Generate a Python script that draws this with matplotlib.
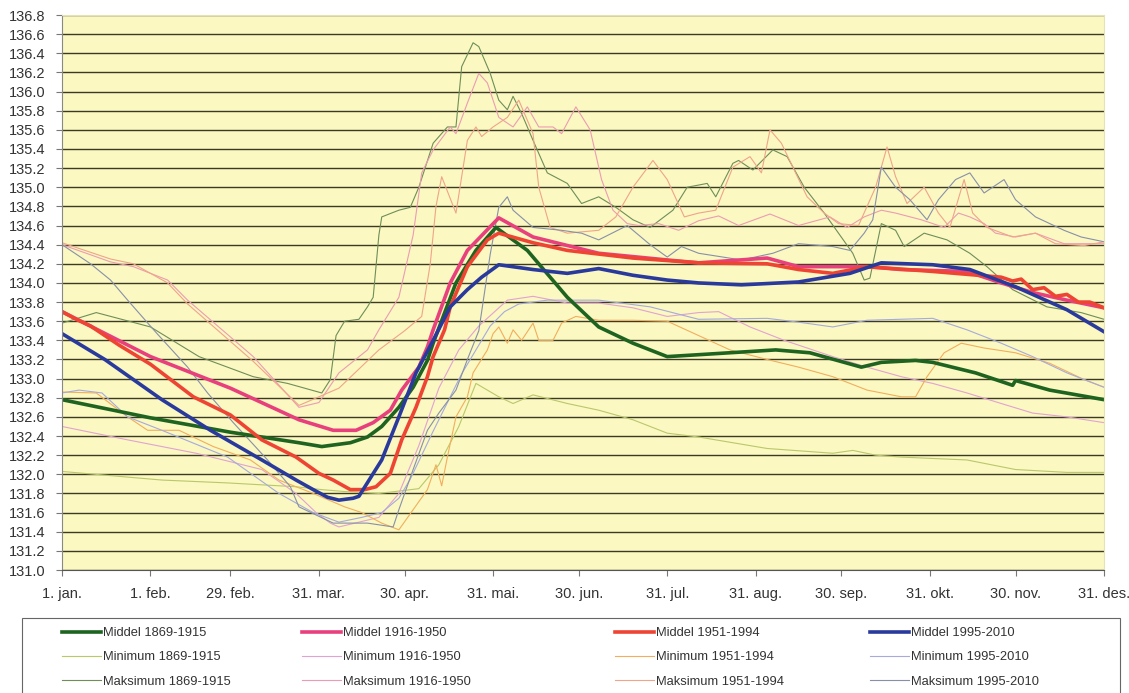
import matplotlib
matplotlib.use("Agg")
import matplotlib.pyplot as plt
from matplotlib.patches import Rectangle
from matplotlib.ticker import FormatStrFormatter, MultipleLocator

plt.rcParams['font.family'] = ['Liberation Sans', 'DejaVu Sans']

# x-akse: dag i året (skuddår), etiketter
tick_dager = [0, 31, 59, 90, 120, 151, 181, 212, 243, 273, 304, 334, 365]
tick_tekst = ['1. jan.', '1. feb.', '29. feb.', '31. mar.', '30. apr.', '31. mai.', '30. jun.',
              '31. jul.', '31. aug.', '30. sep.', '31. okt.', '30. nov.', '31. des.']

# ---- Middel ----
dag_mid_1869 = [0, 31, 59, 83, 91, 101, 107, 112, 118, 123, 128, 130, 138, 145, 152, 163, 177, 188,
                200, 212, 223, 250, 262, 280, 287, 299, 305, 320, 333, 334, 346, 365]
mid_1869 = [132.78, 132.59, 132.44, 132.33, 132.29, 132.33, 132.39, 132.50, 132.70, 132.91, 133.19,
            133.37, 134.00, 134.34, 134.58, 134.34, 133.85, 133.54, 133.37, 133.23, 133.25, 133.30,
            133.27, 133.12, 133.17, 133.19, 133.17, 133.06, 132.93, 132.98, 132.88, 132.78]

dag_mid_1916 = [0, 31, 59, 83, 95, 103, 109, 115, 119, 125, 128, 130, 136, 142, 153, 165, 188, 212,
                223, 247, 258, 282, 294, 317, 329, 340, 352, 365]
mid_1916 = [133.70, 133.23, 132.90, 132.57, 132.46, 132.46, 132.54, 132.67, 132.88, 133.12, 133.33,
            133.51, 134.00, 134.34, 134.68, 134.48, 134.31, 134.24, 134.21, 134.26, 134.17, 134.17,
            134.14, 134.12, 134.00, 133.90, 133.82, 133.74]

dag_mid_1951 = [0, 5, 10, 20, 31, 46, 59, 70, 82, 90, 95, 101, 106, 110, 115, 119, 124, 128, 130,
                134, 136, 142, 149, 153, 165, 177, 200, 223, 247, 258, 270, 282, 305, 329, 333,
                336, 340, 344, 348, 352, 356, 360, 365]
mid_1951 = [133.70, 133.62, 133.55, 133.35, 133.15, 132.81, 132.62, 132.36, 132.18, 132.01, 131.94,
            131.84, 131.84, 131.87, 132.01, 132.36, 132.70, 133.02, 133.23, 133.51, 133.75, 134.17,
            134.45, 134.52, 134.42, 134.34, 134.26, 134.21, 134.20, 134.14, 134.10, 134.17, 134.12,
            134.06, 134.02, 134.04, 133.93, 133.95, 133.86, 133.88, 133.80, 133.80, 133.74]

dag_mid_1995 = [0, 15, 35, 52, 70, 82, 88, 93, 97, 102, 104, 112, 118, 124, 130, 136, 142, 147, 153,
                165, 177, 188, 200, 212, 223, 238, 258, 276, 287, 305, 318, 334, 352, 365]
mid_1995 = [133.47, 133.20, 132.78, 132.46, 132.15, 131.94, 131.84, 131.76, 131.73, 131.75, 131.77,
            132.15, 132.60, 133.06, 133.40, 133.75, 133.93, 134.06, 134.19, 134.14, 134.10, 134.15,
            134.08, 134.03, 134.00, 133.98, 134.01, 134.10, 134.21, 134.19, 134.14, 133.96, 133.72,
            133.49]

# ---- Minimum / Maksimum ----
dag_min_1869 = [0, 35, 58, 82, 91, 99, 111, 125, 132, 139, 145, 153, 158, 165, 177, 188, 200, 212,
                223, 247, 270, 277, 285, 294, 317, 334, 352, 365]
min_1869 = [132.03, 131.94, 131.91, 131.87, 131.84, 131.82, 131.80, 131.85, 132.10, 132.50, 132.95,
            132.81, 132.74, 132.83, 132.74, 132.67, 132.57, 132.43, 132.39, 132.27, 132.22, 132.25,
            132.20, 132.18, 132.15, 132.05, 132.02, 132.02]

dag_maks_1869 = [0, 12, 31, 48, 67, 79, 91, 94, 96, 99, 104, 107, 109, 111, 112, 118, 122, 125, 130,
                 135, 138, 140, 144, 146, 150, 153, 156, 158, 161, 165, 170, 177, 182, 188, 194, 200,
                 206, 214, 219, 226, 229, 235, 237, 242, 249, 254, 260, 267, 272, 277, 281, 283, 287,
                 292, 295, 302, 310, 318, 324, 333, 345, 357, 365]
maks_1869 = [133.58, 133.69, 133.54, 133.23, 133.02, 132.95, 132.85, 132.99, 133.45, 133.60, 133.62,
             133.75, 133.85, 134.50, 134.69, 134.76, 134.79, 135.00, 135.46, 135.63, 135.63, 136.26,
             136.51, 136.47, 136.19, 135.91, 135.81, 135.95, 135.77, 135.49, 135.15, 135.04, 134.83,
             134.90, 134.79, 134.66, 134.58, 134.76, 135.00, 135.04, 134.90, 135.25, 135.28, 135.18,
             135.39, 135.32, 135.00, 134.73, 134.52, 134.31, 134.03, 134.05, 134.62, 134.55, 134.38,
             134.52, 134.45, 134.31, 134.17, 133.93, 133.75, 133.69, 133.62]

dag_min_1916 = [0, 23, 47, 70, 82, 89, 94, 97, 104, 111, 118, 125, 132, 139, 146, 156, 165, 177, 188,
                200, 212, 223, 230, 241, 253, 270, 282, 294, 305, 317, 329, 340, 352, 365]
min_1916 = [132.50, 132.36, 132.22, 132.05, 131.80, 131.60, 131.49, 131.45, 131.50, 131.55, 131.80,
            132.30, 132.90, 133.30, 133.55, 133.82, 133.86, 133.79, 133.79, 133.74, 133.65, 133.69,
            133.70, 133.54, 133.40, 133.23, 133.12, 133.02, 132.95, 132.85, 132.74, 132.64, 132.60,
            132.54]

dag_maks_1916 = [0, 17, 25, 37, 44, 67, 83, 90, 97, 107, 111, 118, 123, 126, 130, 136, 138, 142, 146,
                 149, 151, 153, 158, 163, 167, 172, 175, 180, 185, 189, 193, 198, 202, 209, 216, 223,
                 230, 237, 248, 258, 269, 275, 281, 287, 292, 301, 309, 314, 318, 323, 327, 334, 341,
                 351, 365]
maks_1916 = [134.40, 134.22, 134.17, 134.03, 133.82, 133.23, 132.70, 132.75, 133.06, 133.30, 133.51,
             133.85, 134.50, 135.15, 135.39, 135.63, 135.56, 135.88, 136.19, 136.09, 135.91, 135.73,
             135.63, 135.84, 135.63, 135.63, 135.56, 135.84, 135.60, 135.08, 134.76, 134.62, 134.60,
             134.62, 134.55, 134.65, 134.70, 134.60, 134.72, 134.60, 134.69, 134.58, 134.69, 134.76,
             134.73, 134.66, 134.58, 134.73, 134.69, 134.62, 134.52, 134.48, 134.52, 134.41, 134.41]

dag_min_1951 = [0, 12, 23, 30, 41, 53, 66, 76, 88, 99, 105, 112, 118, 123, 128, 131, 133, 135, 138,
                142, 144, 149, 151, 153, 156, 158, 161, 165, 167, 172, 175, 180, 188, 200, 212, 223,
                234, 247, 258, 270, 282, 294, 299, 303, 309, 315, 323, 334, 346, 358, 365]
min_1951 = [132.86, 132.85, 132.60, 132.46, 132.46, 132.29, 132.15, 131.94, 131.80, 131.66, 131.60,
            131.49, 131.42, 131.63, 131.84, 132.10, 131.88, 132.18, 132.60, 132.81, 133.06, 133.30,
            133.47, 133.54, 133.37, 133.51, 133.40, 133.58, 133.40, 133.40, 133.58, 133.65, 133.61,
            133.61, 133.60, 133.45, 133.30, 133.20, 133.12, 133.02, 132.88, 132.81, 132.81, 133.02,
            133.27, 133.37, 133.32, 133.27, 133.16, 132.99, 132.91]

dag_maks_1951 = [0, 17, 25, 37, 44, 67, 83, 97, 111, 120, 126, 129, 131, 133, 138, 142, 145, 147, 151,
                 156, 160, 165, 167, 171, 177, 188, 194, 200, 202, 207, 212, 218, 223, 229, 235, 241,
                 245, 248, 252, 256, 261, 267, 272, 279, 285, 289, 292, 296, 302, 307, 311, 316, 319,
                 324, 333, 341, 348, 358, 365]
maks_1951 = [134.42, 134.25, 134.20, 134.00, 133.78, 133.18, 132.72, 132.90, 133.30, 133.50, 133.65,
             134.20, 134.80, 135.11, 134.73, 135.49, 135.63, 135.53, 135.63, 135.73, 135.91, 135.56,
             135.00, 134.58, 134.52, 134.55, 134.69, 135.00, 135.08, 135.28, 135.08, 134.69, 134.73,
             134.76, 135.21, 135.32, 135.15, 135.60, 135.46, 135.21, 134.90, 134.73, 134.62, 134.60,
             135.00, 135.42, 135.11, 134.83, 135.00, 134.73, 134.58, 135.08, 134.73, 134.58, 134.48,
             134.52, 134.41, 134.39, 134.43]

dag_min_1995 = [0, 6, 14, 23, 35, 58, 76, 88, 97, 105, 112, 118, 122, 126, 130, 135, 140, 146, 150,
                155, 160, 170, 188, 206, 223, 247, 258, 270, 282, 305, 317, 329, 340, 352, 365]
min_1995 = [132.85, 132.88, 132.85, 132.60, 132.46, 132.18, 131.80, 131.60, 131.50, 131.55, 131.60,
            131.75, 131.95, 132.20, 132.45, 132.75, 133.05, 133.35, 133.55, 133.70, 133.78, 133.82,
            133.82, 133.75, 133.62, 133.63, 133.59, 133.54, 133.61, 133.63, 133.51, 133.37, 133.23,
            133.06, 132.91]

dag_maks_1995 = [0, 10, 17, 23, 33, 44, 51, 60, 72, 80, 83, 95, 107, 116, 118, 123, 128, 132, 138,
                 142, 146, 150, 153, 156, 158, 165, 175, 182, 188, 198, 206, 212, 217, 223, 238, 249,
                 258, 270, 276, 281, 284, 287, 292, 297, 303, 307, 313, 318, 323, 330, 334, 341, 351,
                 357, 365]
maks_1995 = [134.40, 134.20, 134.03, 133.82, 133.48, 133.12, 132.85, 132.54, 132.15, 131.87, 131.66,
             131.49, 131.49, 131.45, 131.63, 132.05, 132.46, 132.64, 132.88, 133.20, 133.50, 134.30,
             134.79, 134.90, 134.76, 134.58, 134.55, 134.52, 134.45, 134.60, 134.40, 134.27, 134.38,
             134.31, 134.24, 134.31, 134.41, 134.38, 134.34, 134.52, 134.66, 135.21, 135.00, 134.87,
             134.66, 134.87, 135.08, 135.15, 134.94, 135.08, 134.87, 134.69, 134.55, 134.48, 134.43]


def tegn():
    fig = plt.figure(figsize=(11.29, 6.93), dpi=100)
    ax = fig.add_axes([62 / 1129, 1 - 570 / 693, (1104 - 62) / 1129, (570 - 15) / 693])
    ax.set_facecolor('#FBF8C2')

    tynn = 0.8
    tykk = 2.6
    h_min_1869, = ax.plot(dag_min_1869, min_1869, color='#B9C86A', lw=tynn, label='Minimum 1869-1915')
    h_maks_1869, = ax.plot(dag_maks_1869, maks_1869, color='#6F8E58', lw=tynn, label='Maksimum 1869-1915')
    h_min_1916, = ax.plot(dag_min_1916, min_1916, color='#E2A2D2', lw=tynn, label='Minimum 1916-1950')
    h_maks_1916, = ax.plot(dag_maks_1916, maks_1916, color='#EC9CB2', lw=tynn, label='Maksimum 1916-1950')
    h_min_1951, = ax.plot(dag_min_1951, min_1951, color='#F2AE5C', lw=tynn, label='Minimum 1951-1994')
    h_maks_1951, = ax.plot(dag_maks_1951, maks_1951, color='#F0A48A', lw=tynn, label='Maksimum 1951-1994')
    h_min_1995, = ax.plot(dag_min_1995, min_1995, color='#A6AADC', lw=tynn, label='Minimum 1995-2010')
    h_maks_1995, = ax.plot(dag_maks_1995, maks_1995, color='#8890A8', lw=tynn, label='Maksimum 1995-2010')

    h_mid_1869, = ax.plot(dag_mid_1869, mid_1869, color='#1E6420', lw=tykk, label='Middel 1869-1915')
    h_mid_1916, = ax.plot(dag_mid_1916, mid_1916, color='#E8407C', lw=tykk, label='Middel 1916-1950')
    h_mid_1951, = ax.plot(dag_mid_1951, mid_1951, color='#EE4433', lw=tykk, label='Middel 1951-1994')
    h_mid_1995, = ax.plot(dag_mid_1995, mid_1995, color='#2A3A9C', lw=tykk, label='Middel 1995-2010')

    ax.set_xlim(0, 365)
    ax.set_ylim(131.0, 136.8)
    ax.yaxis.set_major_locator(MultipleLocator(0.2))
    ax.yaxis.set_major_formatter(FormatStrFormatter('%.1f'))
    ax.yaxis.grid(True, color='#3C3A22', lw=1.0)
    ax.set_axisbelow(True)
    ax.set_xticks(tick_dager)
    ax.set_xticklabels(tick_tekst)
    ax.tick_params(axis='both', labelsize=10.5, labelcolor='#333333', color='#777777',
                   direction='out', length=4)
    ax.tick_params(axis='y', pad=8)
    ax.tick_params(axis='x', pad=8)
    for side in ['top', 'right']:
        ax.spines[side].set_color('#E6E2B8')
    ax.spines['left'].set_color('#888888')
    ax.spines['bottom'].set_color('#555555')

    # legende: fire kolonner med ramme
    kolonner = [
        ([h_mid_1869, h_min_1869, h_maks_1869], 62),
        ([h_mid_1916, h_min_1916, h_maks_1916], 302),
        ([h_mid_1951, h_min_1951, h_maks_1951], 615),
        ([h_mid_1995, h_min_1995, h_maks_1995], 870),
    ]
    for handles, x in kolonner:
        fig.legend(handles=handles, loc='upper left', bbox_to_anchor=(x / 1129, 1 - 627 / 693),
                   frameon=False, fontsize=9.3, handlelength=3.0, handletextpad=0.15,
                   labelspacing=0.95, borderpad=0, borderaxespad=0, labelcolor='#333333')
    fig.patches.append(Rectangle((22 / 1129, -0.05), (1120 - 22) / 1129, 0.05 + 1 - 618 / 693,
                                 transform=fig.transFigure, fill=False, ec='#666666', lw=0.8))

    fig.savefig('out.png', dpi=100)


def main():
    tegn()


if __name__ == "__main__":
    main()
